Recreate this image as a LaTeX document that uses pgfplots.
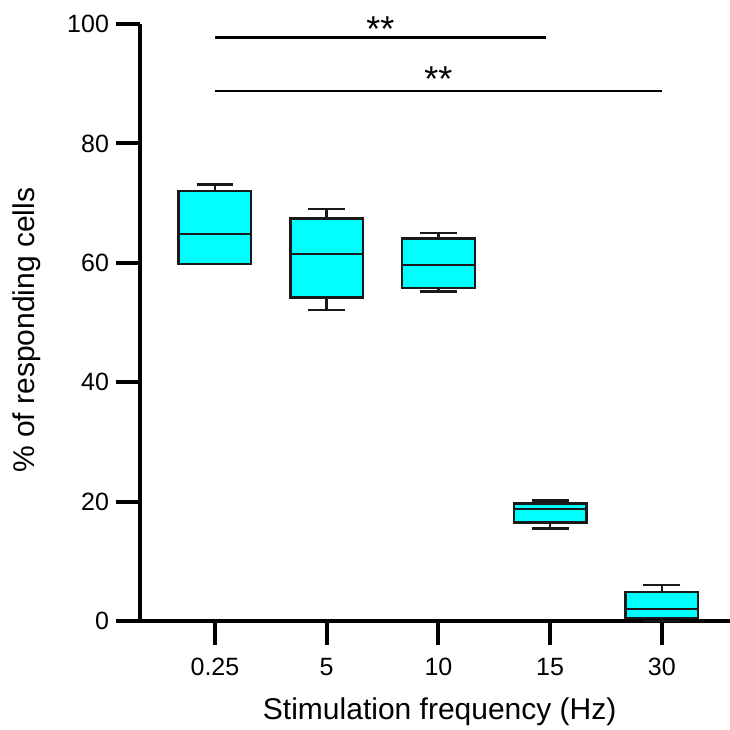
\documentclass[border=0pt]{standalone}
\usepackage{fontspec}
\setmainfont{Liberation Sans}
\usepackage{pgfplots}
\usepgfplotslibrary{statistics}
\pgfplotsset{compat=1.18}
\definecolor{boxfill}{HTML}{00FFFF}
\definecolor{boxedge}{HTML}{1A1A1A}

\begin{document}
\begin{tikzpicture}
\useasboundingbox (-70pt,-54.5pt) rectangle (295pt,310.5pt);
\begin{axis}[
    scale only axis,
    width=295pt, height=298.5pt,
    xmin=-0.671, xmax=4.61, ymin=0, ymax=100,
    axis lines=left,
    axis line style={-, line width=2pt},
    tick align=outside,
    major tick length=12pt,
    tick style={line width=2pt, black},
    xtick={0,1,2,3,4},
    xticklabels={0.25,5,10,15,30},
    ytick={0,20,40,60,80,100},
    xticklabel shift=3pt,
    /pgf/number format/assume math mode=true,
    tick label style={font=\fontsize{12.5}{15}\selectfont},
    xlabel={Stimulation frequency (Hz)},
    ylabel={\% of responding cells},
    every axis x label/.style={at={(axis description cs:0.508,-0.152)}, anchor=center, font=\fontsize{15}{18}\selectfont},
    every axis y label/.style={at={(axis description cs:-0.1915,0.487)}, anchor=center, rotate=90, font=\fontsize{15}{18}\selectfont},
    clip=false,
    boxplot/draw direction=y,
]
% 0.25 Hz
\addplot[boxplot prepared={draw position=0, lower whisker=59.8, lower quartile=59.8,
    median=64.8, upper quartile=72.0, upper whisker=73.1, box extend=0.65, whisker extend=0.33},
    fill=boxfill, draw=boxedge, line width=1.2pt] coordinates {};
% 5 Hz
\addplot[boxplot prepared={draw position=1, lower whisker=52.1, lower quartile=54.2,
    median=61.5, upper quartile=67.4, upper whisker=69.0, box extend=0.65, whisker extend=0.33},
    fill=boxfill, draw=boxedge, line width=1.2pt] coordinates {};
% 10 Hz
\addplot[boxplot prepared={draw position=2, lower whisker=55.2, lower quartile=55.8,
    median=59.6, upper quartile=64.1, upper whisker=65.0, box extend=0.65, whisker extend=0.33},
    fill=boxfill, draw=boxedge, line width=1.2pt] coordinates {};
% 15 Hz
\addplot[boxplot prepared={draw position=3, lower whisker=15.5, lower quartile=16.5,
    median=18.8, upper quartile=19.7, upper whisker=20.2, box extend=0.65, whisker extend=0.33},
    fill=boxfill, draw=boxedge, line width=1.2pt] coordinates {};
% 30 Hz
\addplot[boxplot prepared={draw position=4, lower whisker=0, lower quartile=0.55,
    median=2.0, upper quartile=4.9, upper whisker=6.0, box extend=0.65, whisker extend=0.33},
    fill=boxfill, draw=boxedge, line width=1.2pt] coordinates {};

% significance bars
\draw[line width=1.3pt] (axis cs:0,97.7) -- (axis cs:2.96,97.7);
\draw[line width=1.3pt] (axis cs:0,88.8) -- (axis cs:4.0,88.8);
\node[anchor=base, font=\fontsize{18}{20}\selectfont, inner sep=0pt] at (axis cs:1.48,97.0) {**};
\node[anchor=base, font=\fontsize{18}{20}\selectfont, inner sep=0pt] at (axis cs:2.0,88.7) {**};
\end{axis}
\end{tikzpicture}
\end{document}
